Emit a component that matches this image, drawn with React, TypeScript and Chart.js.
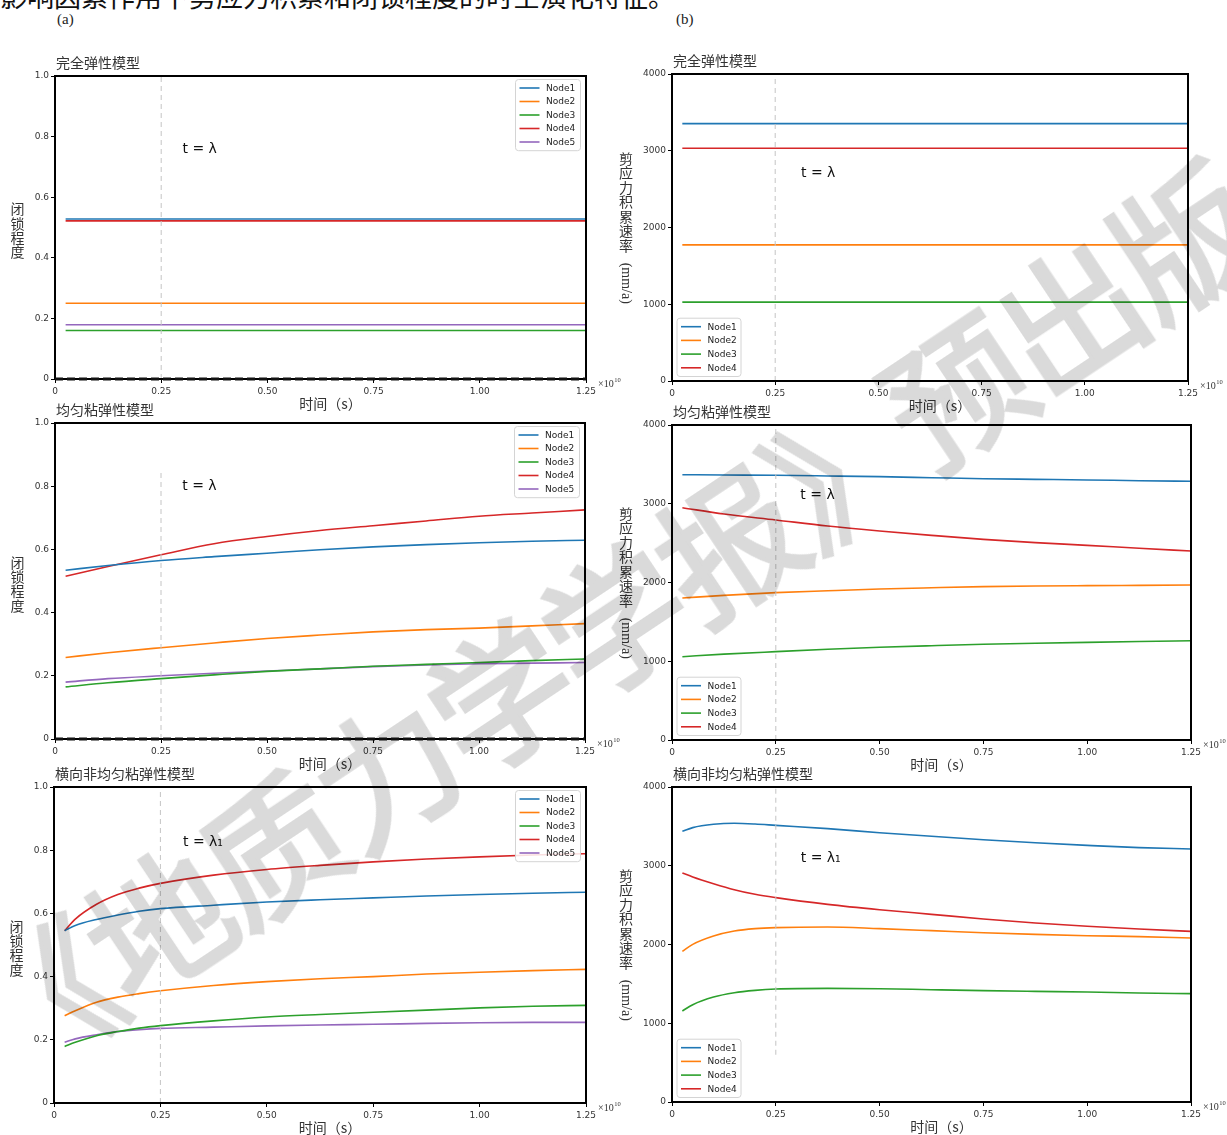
import React, { useEffect, useRef } from 'react';
import { Chart, registerables } from 'chart.js';

Chart.register(...registerables);

// ---------- data ----------
const NODE_NAMES = ['Node1', 'Node2', 'Node3', 'Node4', 'Node5'];
const NODE_COLORS = ['#1f77b4', '#ff7f0e', '#2ca02c', '#d62728', '#9467bd'];

const TIME_TICKS = [0, 0.25, 0.5, 0.75, 1.0, 1.25];
const LOCK_TICKS = [0, 0.2, 0.4, 0.6, 0.8, 1.0];
const RATE_TICKS = [0, 1000, 2000, 3000, 4000];

// 完全弹性模型
const elasticTime = [0.025, 1.25];
const elasticLock = [
  [0.528, 0.528],
  [0.25, 0.25],
  [0.16, 0.16],
  [0.522, 0.522],
  [0.179, 0.179],
];
const elasticRate = [
  [3354, 3354],
  [1774, 1774],
  [1028, 1028],
  [3033, 3033],
];

// 均匀粘弹性模型
const uniformTime = [0.025, 0.125, 0.25, 0.375, 0.5, 0.625, 0.75, 0.875, 1.0, 1.125, 1.25];
const uniformLock = [
  [0.534, 0.549, 0.565, 0.577, 0.588, 0.599, 0.608, 0.615, 0.621, 0.626, 0.629],
  [0.258, 0.273, 0.289, 0.304, 0.318, 0.329, 0.339, 0.346, 0.351, 0.358, 0.365],
  [0.165, 0.178, 0.191, 0.203, 0.214, 0.222, 0.230, 0.236, 0.242, 0.248, 0.253],
  [0.515, 0.546, 0.583, 0.618, 0.641, 0.660, 0.675, 0.690, 0.705, 0.715, 0.725],
  [0.180, 0.191, 0.200, 0.208, 0.215, 0.222, 0.229, 0.234, 0.238, 0.240, 0.242],
];
const uniformRate = [
  [3369, 3365, 3361, 3353, 3344, 3331, 3318, 3310, 3302, 3293, 3285],
  [1803, 1836, 1871, 1895, 1917, 1933, 1947, 1955, 1960, 1964, 1968],
  [1058, 1090, 1122, 1152, 1177, 1197, 1215, 1228, 1240, 1251, 1261],
  [2950, 2870, 2794, 2717, 2654, 2599, 2548, 2506, 2472, 2434, 2400],
];

// 横向非均匀粘弹性模型
const lateralTime = [0.025, 0.05, 0.1, 0.15, 0.2, 0.25, 0.375, 0.5, 0.625, 0.75, 0.875, 1.0, 1.125, 1.25];
const lateralLock = [
  [0.545, 0.562, 0.581, 0.595, 0.607, 0.615, 0.626, 0.636, 0.643, 0.649, 0.655, 0.660, 0.664, 0.667],
  [0.276, 0.292, 0.319, 0.335, 0.346, 0.355, 0.372, 0.384, 0.393, 0.400, 0.408, 0.414, 0.419, 0.423],
  [0.179, 0.192, 0.213, 0.226, 0.237, 0.245, 0.260, 0.272, 0.280, 0.287, 0.294, 0.301, 0.306, 0.309],
  [0.545, 0.582, 0.629, 0.660, 0.680, 0.695, 0.721, 0.739, 0.752, 0.763, 0.772, 0.779, 0.785, 0.789],
  [0.192, 0.203, 0.216, 0.226, 0.232, 0.236, 0.240, 0.244, 0.247, 0.249, 0.252, 0.254, 0.255, 0.255],
];
const lateralRate = [
  [3437, 3484, 3526, 3539, 3530, 3513, 3471, 3420, 3374, 3331, 3293, 3259, 3230, 3213],
  [1913, 2002, 2108, 2171, 2201, 2214, 2222, 2201, 2176, 2150, 2129, 2112, 2100, 2083],
  [1156, 1236, 1333, 1388, 1418, 1435, 1443, 1439, 1426, 1414, 1405, 1397, 1384, 1376],
  [2908, 2857, 2772, 2696, 2637, 2595, 2510, 2442, 2383, 2324, 2273, 2231, 2197, 2167],
];

const LAMBDA_TIME = 0.25;

// ---------- layout / panels ----------
type Spec = {
  title: string;
  kind: 'lock' | 'rate';
  L: number; T: number; R: number; B: number;
  time: number[];
  values: number[][];
  ann: { x: number; y: number; text: string };
  guide: [number, number];
  zeroDash: boolean;
};

const PANELS: Spec[] = [
  { title: '完全弹性模型', kind: 'lock', L: 55, T: 76, R: 586, B: 379, time: elasticTime, values: elasticLock, ann: { x: 0.30, y: 0.757, text: 't = λ' }, guide: [0, 1], zeroDash: true },
  { title: '完全弹性模型', kind: 'rate', L: 672, T: 74, R: 1188, B: 381, time: elasticTime, values: elasticRate, ann: { x: 0.3125, y: 2711, text: 't = λ' }, guide: [0, 4000], zeroDash: false },
  { title: '均匀粘弹性模型', kind: 'lock', L: 55, T: 423, R: 585, B: 739, time: uniformTime, values: uniformLock, ann: { x: 0.30, y: 0.80, text: 't = λ' }, guide: [0, 0.85], zeroDash: true },
  { title: '均匀粘弹性模型', kind: 'rate', L: 672, T: 425, R: 1191, B: 740, time: uniformTime, values: uniformRate, ann: { x: 0.309, y: 3103, text: 't = λ' }, guide: [0, 4000], zeroDash: false },
  { title: '横向非均匀粘弹性模型', kind: 'lock', L: 54, T: 787, R: 586, B: 1103, time: lateralTime, values: lateralLock, ann: { x: 0.303, y: 0.826, text: 't = λ₁' }, guide: [0, 1], zeroDash: false },
  { title: '横向非均匀粘弹性模型', kind: 'rate', L: 672, T: 787, R: 1191, B: 1102, time: lateralTime, values: lateralRate, ann: { x: 0.31, y: 3098, text: 't = λ₁' }, guide: [600, 4000], zeroDash: false },
];

const CJK = '"Noto Sans CJK SC", sans-serif';
const TICK_FONT = 'DejaVu Sans';

const decorPlugin = {
  id: 'decor',
  afterDatasetsDraw(chart: any, _args: any, opts: any) {
    const { ctx, chartArea: ca, scales } = chart;
    ctx.save();
    // frame
    ctx.strokeStyle = '#000';
    ctx.lineWidth = 2;
    ctx.setLineDash([]);
    ctx.strokeRect(ca.left, ca.top, ca.right - ca.left, ca.bottom - ca.top);

    // dashed zero line over the bottom spine
    if (opts.zeroDash) {
      ctx.save();
      ctx.strokeStyle = '#111';
      ctx.lineWidth = 3.2;
      ctx.setLineDash([8, 4]);
      ctx.beginPath();
      ctx.moveTo(ca.left, ca.bottom);
      ctx.lineTo(ca.right, ca.bottom);
      ctx.stroke();
      ctx.restore();
    }

    // title
    ctx.fillStyle = '#333';
    ctx.font = `14px ${CJK}`;
    ctx.textAlign = 'left';
    ctx.textBaseline = 'middle';
    ctx.fillText(opts.title, ca.left + 1, ca.top - 13.5);

    // x label
    ctx.textAlign = 'center';
    ctx.fillText('时间（s）', (ca.left + ca.right) / 2 + 10, ca.bottom + 25);

    // x10^10
    ctx.textAlign = 'left';
    ctx.font = '10px "Liberation Serif", serif';
    const bx = ca.right + 12;
    ctx.fillText('×10', bx, ca.bottom + 5);
    const w = ctx.measureText('×10').width;
    ctx.font = '6.5px "Liberation Serif", serif';
    ctx.fillText('10', bx + w + 0.5, ca.bottom + 1);

    // y label
    const cy = (ca.top + ca.bottom) / 2;
    ctx.fillStyle = '#333';
    ctx.font = `14px ${CJK}`;
    ctx.textAlign = 'center';
    if (opts.kind === 'lock') {
      const chars = ['闭', '锁', '程', '度'];
      const step = 14.3;
      const c0 = cy + 3 - ((chars.length - 1) / 2) * step;
      chars.forEach((c, i) => ctx.fillText(c, ca.left - 37.5, c0 + i * step));
    } else {
      const chars = ['剪', '应', '力', '积', '累', '速', '率'];
      const step = 14.5;
      const unit = '(mm/a)';
      ctx.font = '14px "Liberation Serif", serif';
      const uw = ctx.measureText(unit).width;
      const gap = 10;
      const total = chars.length * step + gap + uw;
      const top = cy - total / 2;
      const x = ca.left - 46;
      ctx.font = `14px ${CJK}`;
      chars.forEach((c, i) => ctx.fillText(c, x, top + step / 2 + i * step));
      ctx.save();
      ctx.translate(x, top + chars.length * step + gap + uw / 2);
      ctx.rotate(Math.PI / 2);
      ctx.font = '14px "Liberation Serif", serif';
      ctx.fillText(unit, 0, 0);
      ctx.restore();
    }

    // annotation
    ctx.fillStyle = '#111';
    ctx.font = `14px "${TICK_FONT}"`;
    ctx.textAlign = 'left';
    ctx.textBaseline = 'middle';
    ctx.fillText(opts.ann.text, scales.x.getPixelForValue(opts.ann.x), scales.y.getPixelForValue(opts.ann.y));

    // legend
    const items = chart.data.datasets.filter((d: any) => d.label && d.label.startsWith('Node'));
    const n = items.length;
    const rowH = opts.kind === 'lock' ? 13.5 : 13.7;
    const boxH = 8.5 + (n - 1) * rowH + 8.7;
    const boxW = opts.kind === 'lock' ? 65 : 64;
    let bxl: number, byt: number;
    if (opts.kind === 'lock') {
      bxl = ca.right - 5.5 - boxW;
      byt = ca.top + 3.5;
    } else {
      bxl = ca.left + 5;
      byt = ca.bottom - 4.5 - boxH;
    }
    ctx.fillStyle = 'rgba(255,255,255,0.85)';
    ctx.strokeStyle = '#d4d4d4';
    ctx.lineWidth = 1;
    ctx.beginPath();
    if ((ctx as any).roundRect) (ctx as any).roundRect(bxl, byt, boxW, boxH, 3);
    else ctx.rect(bxl, byt, boxW, boxH);
    ctx.fill();
    ctx.stroke();
    items.forEach((d: any, i: number) => {
      const y = byt + 8.5 + i * rowH;
      ctx.strokeStyle = d.borderColor;
      ctx.lineWidth = 1.6;
      ctx.beginPath();
      ctx.moveTo(bxl + 4, y);
      ctx.lineTo(bxl + 24, y);
      ctx.stroke();
      ctx.fillStyle = '#222';
      ctx.font = `9px "${TICK_FONT}"`;
      ctx.textAlign = 'left';
      ctx.textBaseline = 'middle';
      ctx.fillText(d.label, bxl + 30.5, y + 0.5);
    });
    ctx.restore();
  },
};

function Panel({ spec }: { spec: Spec }) {
  const ref = useRef<HTMLCanvasElement | null>(null);
  const cx = spec.kind === 'lock' ? 0 : 610;
  const cw = spec.kind === 'lock' ? 632 : 617;
  const topPad = 40;
  const bottomH = 36;
  const cy = spec.T - topPad;
  const ch = spec.B - spec.T + topPad + bottomH;

  useEffect(() => {
    if (!ref.current) return;
    const isLock = spec.kind === 'lock';
    const yMax = isLock ? 1 : 4000;
    const yTicks = isLock ? LOCK_TICKS : RATE_TICKS;
    const datasets: any[] = [
      {
        label: '',
        data: [{ x: LAMBDA_TIME, y: spec.guide[0] }, { x: LAMBDA_TIME, y: spec.guide[1] }],
        borderColor: '#c4c4c4',
        borderWidth: 1,
        borderDash: [5, 4],
        pointRadius: 0,
      },
    ];
    spec.values.forEach((arr, i) => {
      datasets.push({
        label: NODE_NAMES[i],
        data: spec.time.map((x, j) => ({ x, y: arr[j] })),
        borderColor: NODE_COLORS[i],
        borderWidth: 1.6,
        pointRadius: 0,
        cubicInterpolationMode: 'monotone',
      });
    });

    const chart = new Chart(ref.current, {
      type: 'line',
      data: { datasets },
      plugins: [decorPlugin],
      options: {
        animation: false,
        responsive: false,
        events: [],
        layout: { padding: { top: topPad, right: cw - (spec.R - cx), bottom: 0, left: 0 } },
        plugins: {
          legend: { display: false },
          title: { display: false },
          tooltip: { enabled: false },
          decor: { title: spec.title, kind: spec.kind, ann: spec.ann, zeroDash: spec.zeroDash },
        } as any,
        scales: {
          x: {
            type: 'linear',
            min: 0,
            max: 1.25,
            afterBuildTicks: (s: any) => {
              s.ticks = TIME_TICKS.map((v) => ({ value: v }));
            },
            afterFit: (s: any) => {
              s.height = bottomH;
            },
            ticks: {
              autoSkip: false,
              maxRotation: 0,
              padding: 3,
              color: '#333',
              font: { family: TICK_FONT, size: 9 },
              callback: (v: any) => (Number(v) === 0 ? '0' : Number(v).toFixed(2)),
            },
            grid: { display: true, drawOnChartArea: false, drawTicks: true, tickLength: 4, color: '#000', lineWidth: 1 },
            border: { display: true, color: '#000', width: 2 },
          },
          y: {
            type: 'linear',
            min: 0,
            max: yMax,
            afterBuildTicks: (s: any) => {
              s.ticks = yTicks.map((v) => ({ value: v }));
            },
            afterFit: (s: any) => {
              s.width = spec.L - cx;
            },
            ticks: {
              autoSkip: false,
              padding: 2,
              color: '#333',
              font: { family: TICK_FONT, size: 9 },
              callback: (v: any) => (isLock ? (Number(v) === 0 ? '0' : Number(v).toFixed(1)) : String(v)),
            },
            grid: { display: true, drawOnChartArea: false, drawTicks: true, tickLength: 4, color: '#000', lineWidth: 1 },
            border: { display: true, color: '#000', width: 2 },
          },
        },
      } as any,
    });
    return () => chart.destroy();
  }, [spec]);

  return (
    <canvas
      ref={ref}
      width={cw}
      height={ch}
      style={{ position: 'absolute', left: cx, top: cy, width: cw, height: ch }}
    />
  );
}

export default function App() {
  return (
    <div
      style={{
        position: 'absolute',
        left: 0,
        top: 0,
        width: 1227,
        height: 1135,
        overflow: 'hidden',
        background: '#fff',
      }}
    >
      <div
        style={{
          position: 'absolute',
          left: 0,
          top: -19,
          fontFamily: CJK,
          fontSize: 27,
          lineHeight: '30px',
          color: '#111',
          whiteSpace: 'nowrap',
        }}
      >
        影响因素作用下剪应力积累和闭锁程度的时空演化特征。
      </div>
      <div style={{ position: 'absolute', left: 57, top: 11, fontFamily: '"Liberation Serif", serif', fontSize: 15, color: '#222' }}>(a)</div>
      <div style={{ position: 'absolute', left: 676, top: 11, fontFamily: '"Liberation Serif", serif', fontSize: 15, color: '#222' }}>(b)</div>
      {PANELS.map((p, i) => (
        <Panel key={i} spec={p} />
      ))}
      <div
        style={{
          position: 'absolute',
          left: 610,
          top: 615,
          transform: 'translate(-50%, -50%) rotate(-33.7deg)',
          fontFamily: CJK,
          fontSize: 140,
          fontWeight: 400,
          letterSpacing: -3,
          color: '#dadada',
          WebkitTextStroke: '4px #dadada',
          mixBlendMode: 'multiply',
          whiteSpace: 'nowrap',
          pointerEvents: 'none',
          lineHeight: 1,
        } as any}
      >
        《地质力学学报》预出版
      </div>
    </div>
  );
}
